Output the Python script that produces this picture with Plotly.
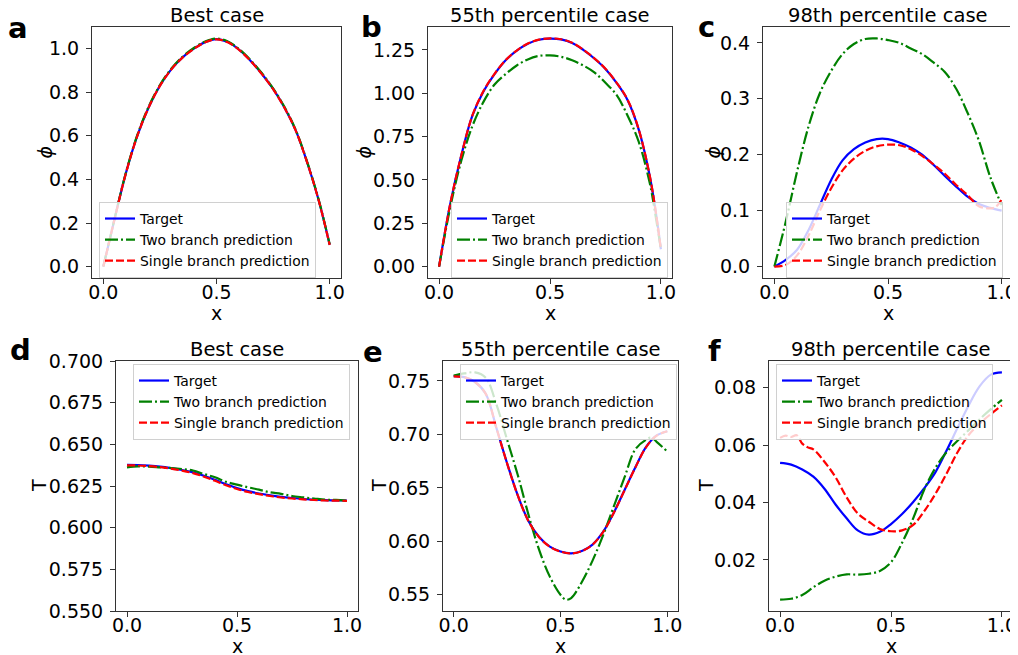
import numpy as np
import plotly.graph_objects as go

W, H = 1018, 655
OFF = 8  # the page body margin shifts the figure by 8 px

# ---- data ----
xs = [0.0, 0.05, 0.1, 0.15, 0.2, 0.25, 0.3, 0.35, 0.4, 0.45, 0.5,
      0.55, 0.6, 0.65, 0.7, 0.75, 0.8, 0.85, 0.9, 0.95, 1.0]
xs_end = xs[:20] + [0.975, 1.0]

# a: phi, best case
a_target = [0, 0.22, 0.43, 0.6, 0.73, 0.83, 0.905, 0.96, 1.0, 1.03, 1.044,
            1.03, 0.995, 0.945, 0.885, 0.815, 0.73, 0.625, 0.48, 0.31, 0.10]
a_two = [0, 0.221, 0.432, 0.603, 0.733, 0.833, 0.908, 0.963, 1.003, 1.033, 1.047,
         1.033, 0.998, 0.948, 0.888, 0.818, 0.733, 0.627, 0.482, 0.312, 0.102]
a_single = [0, 0.219, 0.429, 0.599, 0.729, 0.829, 0.904, 0.959, 0.999, 1.029, 1.043,
            1.029, 0.994, 0.944, 0.884, 0.814, 0.729, 0.624, 0.479, 0.309, 0.099]

# b: phi, 55th percentile
b_target = [0, 0.36, 0.64, 0.87, 1.01, 1.11, 1.19, 1.245, 1.285, 1.308, 1.315,
            1.31, 1.29, 1.25, 1.2, 1.14, 1.06, 0.96, 0.79, 0.52, 0.33, 0.10]
b_two = [0, 0.34, 0.61, 0.81, 0.95, 1.05, 1.11, 1.16, 1.195, 1.215, 1.218,
         1.21, 1.19, 1.16, 1.12, 1.06, 0.99, 0.87, 0.72, 0.48, 0.30, 0.10]
b_single = [0, 0.36, 0.641, 0.871, 1.012, 1.112, 1.191, 1.246, 1.286, 1.309, 1.316,
            1.311, 1.291, 1.251, 1.201, 1.141, 1.061, 0.962, 0.792, 0.522, 0.332, 0.10]

# c: phi, 98th percentile
c_target = [0, 0.012, 0.03, 0.065, 0.11, 0.155, 0.19, 0.21, 0.222, 0.228, 0.228,
            0.222, 0.213, 0.2, 0.182, 0.162, 0.143, 0.125, 0.112, 0.105, 0.1]
c_two = [0, 0.08, 0.17, 0.25, 0.31, 0.35, 0.38, 0.398, 0.407, 0.408, 0.405,
         0.4, 0.39, 0.38, 0.365, 0.348, 0.318, 0.275, 0.225, 0.16, 0.11]
c_single = [0, 0.003, 0.02, 0.055, 0.1, 0.14, 0.172, 0.193, 0.207, 0.215, 0.218,
            0.217, 0.21, 0.198, 0.183, 0.166, 0.146, 0.128, 0.108, 0.104, 0.107, 0.12]

# d: T, best case
d_target = [0.6377, 0.6376, 0.6372, 0.6366, 0.6357, 0.6346, 0.6332, 0.6312, 0.6287, 0.6261, 0.6237,
            0.6219, 0.6205, 0.6194, 0.6185, 0.6178, 0.6172, 0.6168, 0.6165, 0.6164, 0.6163]
d_two = [0.6362, 0.6368, 0.6366, 0.6362, 0.6358, 0.6352, 0.6343, 0.6322, 0.6302, 0.6275, 0.6258,
         0.6242, 0.6228, 0.6212, 0.6203, 0.619, 0.6182, 0.6175, 0.6168, 0.6167, 0.6162]
d_single = [0.6374, 0.6373, 0.6369, 0.6363, 0.6354, 0.6342, 0.6327, 0.6306, 0.6281, 0.6255, 0.6232,
            0.6214, 0.6201, 0.619, 0.6181, 0.6175, 0.617, 0.6166, 0.6163, 0.6162, 0.6161]

# e: T, 55th percentile
e_x_two = [0.0, 0.05, 0.1, 0.15, 0.2, 0.25, 0.3, 0.35, 0.4, 0.45, 0.5, 0.525,
           0.55, 0.6, 0.65, 0.7, 0.75, 0.8, 0.85, 0.9, 0.925, 0.95, 1.0]
e_target = [0.7545, 0.7535, 0.749, 0.738, 0.706, 0.673, 0.643, 0.619, 0.604, 0.595, 0.5905,
            0.5888, 0.591, 0.597, 0.609, 0.627, 0.648, 0.669, 0.688, 0.699, 0.703]
e_two = [0.755, 0.757, 0.758, 0.753, 0.728, 0.695, 0.662, 0.625, 0.592, 0.567, 0.55, 0.5455,
         0.547, 0.562, 0.582, 0.606, 0.633, 0.66, 0.686, 0.695, 0.697, 0.693, 0.684]
e_single = [0.7543, 0.7534, 0.7489, 0.7379, 0.7059, 0.6729, 0.6429, 0.6189, 0.6039, 0.5949, 0.5904,
            0.5887, 0.5909, 0.5969, 0.6089, 0.6269, 0.6479, 0.6689, 0.6879, 0.6989, 0.7029]

# f: T, 98th percentile
f_x_single = [0.0, 0.025, 0.05, 0.075, 0.1, 0.125, 0.15, 0.2, 0.25, 0.3, 0.35, 0.4,
              0.45, 0.5, 0.55, 0.6, 0.65, 0.7, 0.75, 0.8, 0.85, 0.9, 0.95, 1.0]
f_target = [0.0538, 0.0532, 0.0515, 0.049, 0.0448, 0.0393, 0.0345, 0.0303, 0.0288, 0.0298, 0.0325,
            0.036, 0.0402, 0.045, 0.0505, 0.058, 0.066, 0.0738, 0.0805, 0.0845, 0.0853]
f_two = [0.0062, 0.0065, 0.0078, 0.0105, 0.0128, 0.0142, 0.015, 0.0149, 0.0152, 0.0162, 0.0192,
         0.026, 0.0345, 0.0445, 0.052, 0.0575, 0.0615, 0.0652, 0.069, 0.0725, 0.0757]
f_single = [0.0625, 0.0633, 0.0628, 0.0634, 0.0605, 0.0592, 0.0585, 0.0542, 0.0488, 0.0418, 0.0362, 0.0333,
            0.0308, 0.03, 0.0303, 0.0322, 0.037, 0.043, 0.05, 0.0575, 0.0635, 0.0675, 0.0708, 0.0738]

series_names = ["Target", "Two branch prediction", "Single branch prediction"]
panel_letters = ["a", "b", "c", "d", "e", "f"]
panel_titles = ["Best case", "55th percentile case", "98th percentile case",
                "Best case", "55th percentile case", "98th percentile case"]
y_labels = ["<i>ϕ</i>"] * 3 + ["T"] * 3

x_ticks = [0.0, 0.5, 1.0]
x_ticktext = ["0.0", "0.5", "1.0"]
y_ticks = [
    [0.0, 0.2, 0.4, 0.6, 0.8, 1.0],
    [0.0, 0.25, 0.5, 0.75, 1.0, 1.25],
    [0.0, 0.1, 0.2, 0.3, 0.4],
    [0.55, 0.575, 0.6, 0.625, 0.65, 0.675, 0.7],
    [0.55, 0.6, 0.65, 0.7, 0.75],
    [0.02, 0.04, 0.06, 0.08],
]
y_ticktext = [
    ["0.0", "0.2", "0.4", "0.6", "0.8", "1.0"],
    ["0.00", "0.25", "0.50", "0.75", "1.00", "1.25"],
    ["0.0", "0.1", "0.2", "0.3", "0.4"],
    ["0.550", "0.575", "0.600", "0.625", "0.650", "0.675", "0.700"],
    ["0.55", "0.60", "0.65", "0.70", "0.75"],
    ["0.02", "0.04", "0.06", "0.08"],
]

panels = [
    [(xs, a_target), (xs, a_two), (xs, a_single)],
    [(xs_end, b_target), (xs_end, b_two), (xs_end, b_single)],
    [(xs, c_target), (xs, c_two), (xs_end, c_single)],
    [(xs, d_target), (xs, d_two), (xs, d_single)],
    [(xs, e_target), (e_x_two, e_two), (xs, e_single)],
    [(xs, f_target), (xs, f_two), (f_x_single, f_single)],
]

# ---- layout geometry (pixels on the page) ----
boxes = [  # left, right, top, bottom
    (92, 341, 27, 278), (428, 672, 27, 278), (763, 1013, 27, 278),
    (116, 358, 361, 611), (443, 678, 361, 611), (769, 1013, 361, 611),
]
legend_pos = [(99, 202), (451, 202), (786, 202), (133, 364), (460, 364), (776, 364)]
ylabel_x = [44, 363, 712, 39, 379, 706]
letter_pos = [(18, 28), (371, 27), (706, 27), (20, 350), (373, 352), (714, 351)]


def px(x):
    return (x - OFF) / W


def py(y):
    return 1 - (y - OFF) / H


FONT = "DejaVu Sans"
styles = [
    dict(color="blue", width=2.2, dash="solid"),
    dict(color="green", width=2.2, dash="13px,3px,2px,3px"),
    dict(color="red", width=2.2, dash="8px,3px"),
]

fig = go.Figure()
layout = dict(
    width=W, height=H,
    margin=dict(l=0, r=0, t=0, b=0),
    paper_bgcolor="white", plot_bgcolor="white",
    font=dict(family=FONT, size=19, color="black"),
    annotations=[],
)

for i, (series, box) in enumerate(zip(panels, boxes)):
    n = "" if i == 0 else str(i + 1)
    leg = "legend" + n
    for (xv, yv), name, st in zip(series, series_names, styles):
        fig.add_trace(go.Scatter(
            x=xv, y=yv, name=name, mode="lines",
            line=dict(color=st["color"], width=st["width"], dash=st["dash"],
                      shape="spline", smoothing=1.0),
            xaxis="x" + n, yaxis="y" + n, legend=leg, showlegend=True,
        ))

    left, right, top, bottom = box
    if i == 3:
        yr = [0.55, 0.70]
    else:
        allv = np.concatenate([np.asarray(s[1], float) for s in series])
        lo, hi = allv.min(), allv.max()
        pad = 0.05 * (hi - lo)
        yr = [lo - pad, hi + pad]

    axis_common = dict(
        showgrid=False, zeroline=False, showline=True, mirror=True,
        linecolor="#333333", linewidth=1, ticks="outside", ticklen=5,
        tickwidth=1, tickcolor="#333333",
        tickfont=dict(family=FONT, size=19, color="black"),
        automargin=False,
    )
    layout["xaxis" + n] = dict(
        axis_common, domain=[px(left), px(right)], anchor="y" + n,
        range=[-0.05, 1.05], tickvals=x_ticks, ticktext=x_ticktext,
        ticklabelstandoff=-8,
    )
    layout["yaxis" + n] = dict(
        axis_common, domain=[py(bottom), py(top)], anchor="x" + n,
        range=yr, tickvals=y_ticks[i], ticktext=y_ticktext[i],
        ticklabelstandoff=3,
    )
    lx, ly = legend_pos[i]
    layout[leg] = dict(
        x=px(lx), y=py(ly), xanchor="left", yanchor="top",
        xref="paper", yref="paper",
        bgcolor="rgba(255,255,255,0.8)", bordercolor="#d0d0d0", borderwidth=1,
        font=dict(family=FONT, size=13.9, color="black"),
        tracegroupgap=0,
    )

    cx = (left + right) / 2
    cy = (top + bottom) / 2
    ann = layout["annotations"]
    ann.append(dict(text=panel_titles[i], x=px(cx), y=py(top - 11.3),
                    xref="paper", yref="paper", showarrow=False,
                    xanchor="center", yanchor="middle",
                    font=dict(family=FONT, size=19.5)))
    ann.append(dict(text="x", x=px(cx), y=py(bottom + 34.6),
                    xref="paper", yref="paper", showarrow=False,
                    xanchor="center", yanchor="middle",
                    font=dict(family=FONT, size=19)))
    ann.append(dict(text=y_labels[i], x=px(ylabel_x[i]), y=py(cy),
                    xref="paper", yref="paper", showarrow=False, textangle=-90,
                    xanchor="center", yanchor="middle",
                    font=dict(family=FONT, size=19)))
    lx2, ly2 = letter_pos[i]
    ann.append(dict(text="<b>" + panel_letters[i] + "</b>", x=px(lx2), y=py(ly2),
                    xref="paper", yref="paper", showarrow=False,
                    xanchor="center", yanchor="middle",
                    font=dict(family=FONT, size=29)))

fig.update_layout(**layout)
fig.write_html("out.html")
